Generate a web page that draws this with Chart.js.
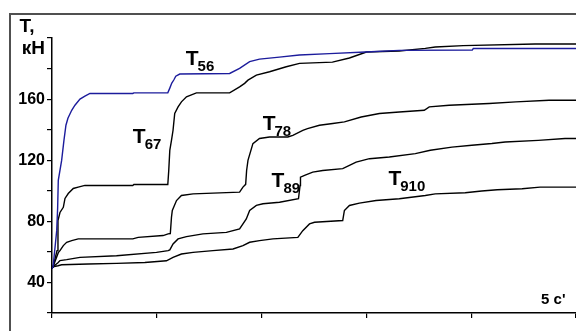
<!DOCTYPE html>
<html>
<head>
<meta charset="utf-8">
<script src="https://cdn.jsdelivr.net/npm/chart.js@4/dist/chart.umd.min.js"></script>
<style>
    html, body { margin: 0; padding: 0; background: #fff; overflow: hidden; }
    .wrap { position: relative; width: 576px; height: 331px; }
    .frame { position: absolute; left: 9px; top: 13px; width: 620px; height: 400px; border: 2px solid #505050; }
    canvas { position: absolute; left: 0; top: 0; }
</style>
</head>
<body>
<div class="wrap">
    <div class="frame"></div>
    <canvas id="tChart" width="576" height="331"></canvas>
</div>
<script>
// time, s
const t56 = [0, 0.01, 0.045, 0.054, 0.06, 0.092, 0.114, 0.133, 0.152, 0.188, 0.219, 0.267, 0.314, 0.362, 0.771, 0.781, 1.105, 1.124, 1.143, 1.162, 1.181, 1.219, 1.695, 1.79, 1.886, 1.98, 2.17, 2.36, 2.648, 2.99, 3.314, 4.01, 4.02, 5];
const v56 = [49, 50.3, 73.9, 89, 106.8, 119.9, 133, 142.9, 147.5, 152.7, 156, 160, 161.9, 163.7, 163.7, 164.1, 164.1, 167.2, 170.5, 172.5, 175, 176.4, 176.8, 180.1, 184.5, 186.2, 187.5, 188.9, 189.8, 190.8, 191.9, 192.1, 193.1, 193.1];

const t67 = [0, 0.01, 0.048, 0.057, 0.076, 0.108, 0.124, 0.155, 0.203, 0.25, 0.314, 0.771, 0.781, 1.105, 1.114, 1.124, 1.14, 1.155, 1.171, 1.203, 1.235, 1.283, 1.378, 1.695, 1.79, 1.838, 1.87, 1.95, 2.076, 2.235, 2.362, 2.676, 2.838, 3.0, 3.314, 3.562, 3.657, 3.924, 4.61, 5];
const v67 = [49, 50.3, 60.8, 80.5, 85.8, 89.2, 95, 98.2, 101.5, 102.4, 103.5, 103.5, 104.1, 104.1, 113.3, 126.4, 133, 139.6, 150.6, 154.9, 158.2, 161.5, 164.1, 164.1, 168, 170.3, 172.4, 175.7, 177.9, 181.2, 183.4, 184.2, 186.9, 190.8, 191.5, 193.2, 194.1, 195, 196.1, 196.1];

const t78 = [0, 0.01, 0.06, 0.076, 0.108, 0.14, 0.188, 0.25, 0.771, 0.822, 1.06, 1.108, 1.129, 1.14, 1.148, 1.188, 1.235, 1.346, 1.79, 1.822, 1.848, 1.857, 1.87, 1.917, 1.98, 2.076, 2.25, 2.298, 2.393, 2.438, 2.552, 2.679, 2.79, 2.95, 3.124, 3.314, 3.552, 3.6, 3.79, 4.171, 4.426, 4.743, 5];
const v78 = [49, 50.3, 59.5, 60.8, 64.1, 66.3, 67.4, 68.5, 68.5, 69.5, 70.7, 71.8, 72, 82.7, 87.1, 93.6, 96.9, 98, 99.1, 102.4, 104.2, 113.3, 119.9, 130.9, 134.2, 135.2, 135.2, 136.3, 139.6, 140.7, 142.9, 144, 145.1, 148.3, 150.6, 151.6, 152.7, 154.9, 156, 157.1, 158.2, 159.3, 159.3];

const t89 = [0, 0.01, 0.057, 0.076, 0.14, 0.267, 0.616, 0.997, 1.108, 1.124, 1.155, 1.203, 1.283, 1.44, 1.664, 1.79, 1.854, 1.886, 1.95, 2.013, 2.171, 2.352, 2.367, 2.371, 2.41, 2.488, 2.583, 2.774, 2.838, 2.902, 3.029, 3.219, 3.467, 3.61, 3.816, 4.006, 4.197, 4.324, 4.64, 4.895, 5];
const v89 = [49, 50.3, 52.9, 54.3, 54.9, 56.4, 57.5, 59.7, 60.8, 61.3, 65.2, 68.5, 70, 71.8, 72.8, 75.1, 81.6, 87.1, 90.4, 91.5, 92.5, 94.8, 103.5, 108.9, 110.1, 112.2, 113.3, 114.5, 116.6, 118.8, 121, 122.1, 124.3, 126.5, 128.6, 129.8, 130.9, 131.9, 133, 134.2, 134.2];

const t910 = [0, 0.01, 0.057, 0.092, 0.346, 0.616, 0.886, 1.092, 1.155, 1.235, 1.346, 1.536, 1.727, 1.822, 1.886, 1.98, 2.108, 2.346, 2.393, 2.457, 2.505, 2.774, 2.79, 2.838, 2.933, 3.092, 3.314, 3.562, 3.657, 3.943, 4.1, 4.248, 4.486, 4.657, 5];
const v910 = [49, 50.3, 50.9, 51.6, 52.1, 52.5, 53.1, 54.2, 56.4, 58.6, 59.7, 60.8, 61.9, 64.1, 66.3, 67.4, 68.5, 69.5, 73.9, 78.3, 79.4, 80.5, 87.1, 90.4, 91.9, 93.6, 94.8, 96.9, 98, 98.7, 99.9, 100.7, 101.3, 102.4, 102.4];

// labels on the curves: T + subscript, anchored at data coords
const curveNames = ['56', '67', '78', '89', '910'];
const nameAt = [[1.276, 182.3], [0.771, 131.1], [2.01, 139.6], [2.095, 102.2], [3.21, 103.5]];

const yLabelled = [40, 80, 120, 160];
const yUnit = ['Т,', 'кН'];
const xNote = '5 с\'';
const xNoteAt = [4.667, 26];

const FONT = '"Liberation Sans", Arial, sans-serif';

function pts(ts, vs) {
    return ts.map((t, i) => ({ x: t, y: vs[i] }));
}

const curveLabels = {
    id: 'curveLabels',
    afterDatasetsDraw(chart) {
        const { ctx, scales: { x, y } } = chart;
        ctx.save();
        ctx.fillStyle = '#000';
        ctx.textBaseline = 'alphabetic';
        curveNames.forEach((name, i) => {
            const px = x.getPixelForValue(nameAt[i][0]);
            const py = y.getPixelForValue(nameAt[i][1]);
            ctx.font = 'bold 21px ' + FONT;
            ctx.fillText('T', px, py);
            const w = ctx.measureText('T').width;
            ctx.font = 'bold 15px ' + FONT;
            ctx.fillText(name, px + w - 1, py + 6);
        });
        ctx.font = 'bold 15px ' + FONT;
        ctx.fillText(xNote, x.getPixelForValue(xNoteAt[0]), y.getPixelForValue(xNoteAt[1]));
        ctx.restore();
    }
};

const ctx = document.getElementById('tChart').getContext('2d');

new Chart(ctx, {
    type: 'line',
    data: {
        datasets: [
            { label: 'T56', data: pts(t56, v56), borderColor: '#1c1c9c' },
            { label: 'T67', data: pts(t67, v67), borderColor: '#000' },
            { label: 'T78', data: pts(t78, v78), borderColor: '#000' },
            { label: 'T89', data: pts(t89, v89), borderColor: '#000' },
            { label: 'T910', data: pts(t910, v910), borderColor: '#000' }
        ].map(d => Object.assign(d, { borderWidth: 1.4, pointRadius: 0, tension: 0, fill: false }))
    },
    options: {
        responsive: false,
        animation: false,
        layout: { padding: { left: 0, right: 0, top: 38, bottom: 0 } },
        plugins: { legend: { display: false }, tooltip: { enabled: false } },
        scales: {
            x: {
                type: 'linear',
                min: 0,
                max: 5,
                ticks: { stepSize: 1, display: false },
                grid: { display: true, drawOnChartArea: false, drawTicks: true, tickLength: 5, color: '#000', lineWidth: 1.2 },
                border: { display: true, color: '#000', width: 1.5 },
                afterFit(s) { s.height = 18; }
            },
            y: {
                min: 20,
                max: 200,
                ticks: {
                    stepSize: 20,
                    autoSkip: false,
                    padding: 2,
                    color: '#000',
                    font: c => (c.tick && c.tick.value === 200)
                        ? { family: FONT, size: 19, weight: 'bold', lineHeight: 1.15 }
                        : { family: FONT, size: 16, weight: 'bold' },
                    callback: v => v === 200 ? [yUnit[0] + '  ', yUnit[1]] : (yLabelled.includes(v) ? String(v) : '')
                },
                grid: { display: true, drawOnChartArea: false, drawTicks: true, tickLength: 5, color: '#000', lineWidth: 1.2 },
                border: { display: true, color: '#000', width: 1.5 },
                afterFit(s) { s.width = 52; }
            }
        }
    },
    plugins: [curveLabels]
});
</script>
</body>
</html>
